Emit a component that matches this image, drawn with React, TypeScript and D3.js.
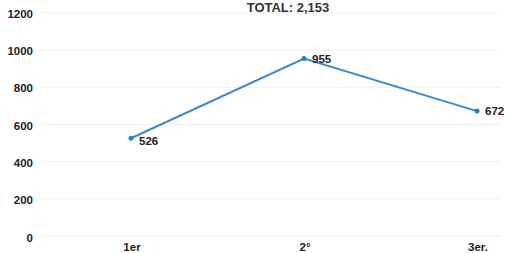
import * as d3 from 'd3';
import { useEffect, useRef } from 'react';

const categories = ['1er', '2°', '3er.'];
const values = [526, 955, 672];
const yTicks = [0, 200, 400, 600, 800, 1000, 1200];
const title = 'TOTAL: 2,153';

export default function App() {
  const svgRef = useRef<SVGSVGElement>(null);

  useEffect(() => {
    const svg = d3.select(svgRef.current);
    svg.selectAll('*').remove();

    const width = 505;
    const height = 253;

    const x = d3.scalePoint<string>().domain(categories).range([131, 477]);
    const y = d3.scaleLinear().domain([0, 1200]).range([236, 13]);

    svg.attr('width', width).attr('height', height)
      .style('font-family', '"Liberation Sans", Arial, sans-serif');

    // faint grid lines
    svg.append('g')
      .selectAll('line')
      .data(yTicks)
      .join('line')
      .attr('x1', 42)
      .attr('x2', 500)
      .attr('y1', d => y(d))
      .attr('y2', d => y(d))
      .attr('stroke', '#f0f0f0')
      .attr('stroke-width', 1);

    // y labels
    svg.append('g')
      .selectAll('text')
      .data(yTicks)
      .join('text')
      .attr('x', 33)
      .attr('y', d => y(d) + (d === 0 ? 2 : 1))
      .attr('dy', '0.35em')
      .attr('text-anchor', 'end')
      .attr('font-size', 11.5)
      .attr('font-weight', 'bold')
      .attr('fill', '#222')
      .text(d => d);

    // x labels
    svg.append('g')
      .selectAll('text')
      .data(categories)
      .join('text')
      .attr('x', d => x(d)! + 1)
      .attr('y', 251)
      .attr('text-anchor', 'middle')
      .attr('font-size', 11.5)
      .attr('font-weight', 'bold')
      .attr('fill', '#222')
      .text(d => d);

    // title
    svg.append('text')
      .attr('x', 288)
      .attr('y', 12)
      .attr('text-anchor', 'middle')
      .attr('font-size', 13)
      .attr('font-weight', 'bold')
      .attr('fill', '#333')
      .text(title);

    const line = d3.line<number>()
      .x((_, i) => x(categories[i])!)
      .y(d => y(d));

    svg.append('path')
      .attr('d', line(values))
      .attr('fill', 'none')
      .attr('stroke', '#3b8ad0')
      .attr('stroke-width', 2);

    svg.append('g')
      .selectAll('circle')
      .data(values)
      .join('circle')
      .attr('cx', (_, i) => x(categories[i])!)
      .attr('cy', d => y(d))
      .attr('r', 2.5)
      .attr('fill', '#2f7fc4');

    // value labels
    svg.append('g')
      .selectAll('text')
      .data(values)
      .join('text')
      .attr('x', (_, i) => x(categories[i])! + 8)
      .attr('y', (d, i) => y(d) + (i === 0 ? 3 : 0))
      .attr('dy', '0.35em')
      .attr('font-size', 11.5)
      .attr('font-weight', 'bold')
      .attr('fill', '#222')
      .text(d => d);
  }, []);

  return (
    <svg ref={svgRef} style={{ position: 'absolute', left: 0, top: 0 }} />
  );
}
